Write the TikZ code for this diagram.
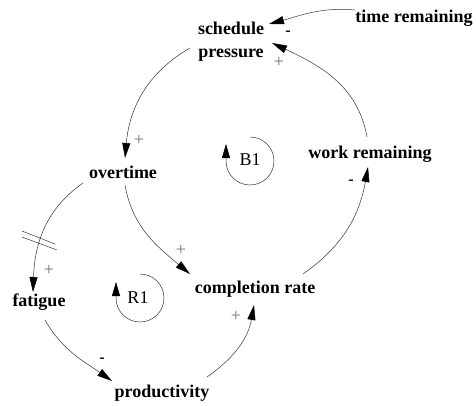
\documentclass[tikz,border=0pt]{standalone}
\usepackage{fontspec}
\setmainfont{Liberation Serif}
\usetikzlibrary{arrows.meta}
\tikzset{
  var/.style={font=\bfseries\fontsize{18}{23}\selectfont, inner sep=1pt, align=center},
  link/.style={line width=0.5pt, draw=black!80, -{Triangle[length=15pt,width=8pt,color=black]}},
  loopar/.style={line width=0.5pt, draw=black!80, -{Triangle[length=14pt,width=8pt,color=black]}},
  plus/.style={font=\fontsize{18}{18}\selectfont, text=black!55, inner sep=0pt},
  minus/.style={font=\bfseries\fontsize{16}{16}\selectfont, inner sep=0pt},
  looplabel/.style={font=\fontsize{18}{18}\selectfont, inner sep=0pt}
}
\begin{document}
\begin{tikzpicture}[x=1pt,y=1pt]
\useasboundingbox (0,0) rectangle (476,405);
% variables
\node[var] (sp) at (231,363) {schedule\\pressure};
\node[var] (tr) at (414,387) {time remaining};
\node[var] (ov) at (123,233) {overtime};
\node[var] (wr) at (370,251) {work remaining};
\node[var] (cr) at (255,116) {completion rate};
\node[var] (fa) at (39,103) {fatigue};
\node[var] (pr) at (162,12) {productivity};
% connectors
\draw[link] ([shift={(-59,8)}]tr.center) to[out=175,in=15] ([shift={(38,18)}]sp.center);
\draw[link] ([shift={(-3,17)}]wr.center) to[out=100,in=-25] ([shift={(41,-1)}]sp.center);
\draw[link] ([shift={(-41,-6)}]sp.center) to[out=210,in=85] ([shift={(2,14)}]ov.center);
\draw[link] ([shift={(2,-13)}]ov.center) to[out=-80,in=140] ([shift={(-65,15)}]cr.center);
\draw[link] ([shift={(-40,-11)}]ov.center) to[out=215,in=88] ([shift={(-6,10)}]fa.center);
\draw[link] ([shift={(6,-18)}]fa.center) to[out=-60,in=145] ([shift={(-50,12)}]pr.center);
\draw[link] ([shift={(45,16)}]pr.center) to[out=35,in=-100] ([shift={(-1,-16)}]cr.center);
\draw[link] ([shift={(48,15)}]cr.center) to[out=35,in=-100] ([shift={(-2,-13)}]wr.center);
% delay mark
\draw[line width=0.5pt, draw=black!80] (22,174) -- (55,161) (22,168) -- (57,155);
% polarities
\node[minus] (s1) at (288,372) {-};
\node[plus] (s2) at (279,343) {+};
\node[plus] (s3) at (139,265) {+};
\node[plus] (s4) at (181,155) {+};
\node[plus] (s5) at (49,135) {+};
\node[minus] (s6) at (102,45) {-};
\node[plus] (s7) at (236,89) {+};
\node[minus] (s8) at (351,223) {-};
% loop markers
\node[looplabel] (b1) at (250,245) {B1};
\draw[loopar] (250,268) arc[start angle=90, end angle=-180, radius=24] -- ++(0,17);
\node[looplabel] (r1) at (138,107) {R1};
\draw[loopar] (140,131) arc[start angle=90, end angle=-180, radius=24] -- ++(0,16);
\end{tikzpicture}
\end{document}
